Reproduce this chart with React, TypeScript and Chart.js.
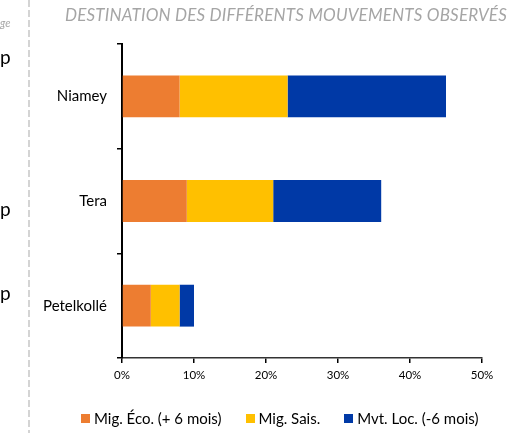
import React, { useEffect, useRef } from "react";
import { Chart, registerables } from "chart.js";

Chart.register(...registerables);

const categories = ["Niamey", "Tera", "Petelkollé"];
const migEco = [8, 9, 4];
const migSais = [15, 12, 4];
const mvtLoc = [22, 15, 2];
const seriesLabels = ["Mig. Éco. (+ 6 mois)", "Mig. Sais.", "Mvt. Loc. (-6 mois)"];
const seriesColors = ["#ED7D31", "#FFC000", "#0039A6"];
const xMax = 50;
const xStep = 10;
const titleText = "DESTINATION DES DIFFÉRENTS MOUVEMENTS OBSERVÉS";

export default function App() {
  const ref = useRef<HTMLCanvasElement | null>(null);

  useEffect(() => {
    if (!ref.current) return;
    const font = "Lato";
    const chart = new Chart(ref.current, {
      type: "bar",
      data: {
        labels: categories,
        datasets: [migEco, migSais, mvtLoc].map((d, i) => ({
          label: seriesLabels[i],
          data: d,
          backgroundColor: seriesColors[i],
          borderWidth: 0,
          barPercentage: 0.4,
          categoryPercentage: 1,
        })),
      },
      options: {
        indexAxis: "y",
        responsive: false,
        animation: false,
        layout: { padding: { left: 30, right: 29, top: 44, bottom: 50 } },
        plugins: {
          title: { display: false },
          tooltip: { enabled: false },
          legend: { display: false },
        },
        scales: {
          x: {
            stacked: true,
            min: 0,
            max: xMax,
            ticks: {
              stepSize: xStep,
              callback: (v: any) => v + "%",
              color: "#000",
              padding: 5,
              font: { family: font, size: 11.5 },
            },
            grid: { drawOnChartArea: false, drawTicks: true, tickLength: 5, color: "#000", lineWidth: 1.5 },
            border: { color: "#333", width: 1.5 },
            afterFit: (s: any) => { s.height = 25; },
          },
          y: {
            stacked: true,
            ticks: { color: "#000", padding: 10, font: { family: font, size: 15 } },
            grid: { offset: true, drawOnChartArea: false, drawTicks: true, tickLength: 5, color: "#000", lineWidth: 1.5 },
            border: { color: "#000", width: 2 },
            afterFit: (s: any) => { s.width = 92; },
          },
        },
      },
    });
    return () => chart.destroy();
  }, []);

  return (
    <div style={{ position: "fixed", left: 0, top: 0, width: 511, height: 433, background: "#fff", overflow: "hidden" }}>
      <canvas ref={ref} width={511} height={433} style={{ position: "absolute", left: 0, top: 0 }} />
      <div
        style={{
          position: "absolute",
          left: 28,
          top: 0,
          width: 2,
          height: 433,
          background: "repeating-linear-gradient(to bottom, #d4d4d4 0px, #d4d4d4 7px, transparent 7px, transparent 10px)",
        }}
      />
      <span style={{ position: "absolute", left: 0, top: 16, fontFamily: "Lato", fontStyle: "italic", fontSize: 11, color: "#a6a6a6", lineHeight: "14px" }}>ge</span>
      <span style={{ position: "absolute", left: 0, top: 46, fontFamily: "Lato", fontSize: 19, color: "#000", lineHeight: "22px" }}>p</span>
      <span style={{ position: "absolute", left: 0, top: 198, fontFamily: "Lato", fontSize: 19, color: "#000", lineHeight: "22px" }}>p</span>
      <span style={{ position: "absolute", left: 0, top: 282, fontFamily: "Lato", fontSize: 19, color: "#000", lineHeight: "22px" }}>p</span>
      <div
        style={{
          position: "absolute",
          right: 4,
          top: 5,
          fontFamily: "Lato",
          fontStyle: "italic",
          fontSize: 17,
          letterSpacing: "0.18px",
          color: "#a5a5a5",
          whiteSpace: "nowrap",
          lineHeight: "20px",
        }}
      >
        {titleText}
      </div>
      <div
        style={{
          position: "absolute",
          left: 81,
          top: 409,
          display: "flex",
          alignItems: "center",
          gap: 24,
          fontFamily: "Lato",
          fontSize: 15,
          color: "#000",
          whiteSpace: "nowrap",
          lineHeight: "18px",
        }}
      >
        {seriesLabels.map((lab, i) => (
          <div key={lab} style={{ display: "flex", alignItems: "center" }}>
            <span style={{ display: "inline-block", width: 9, height: 9, background: seriesColors[i], marginRight: 4 }} />
            <span>{lab}</span>
          </div>
        ))}
      </div>
    </div>
  );
}
